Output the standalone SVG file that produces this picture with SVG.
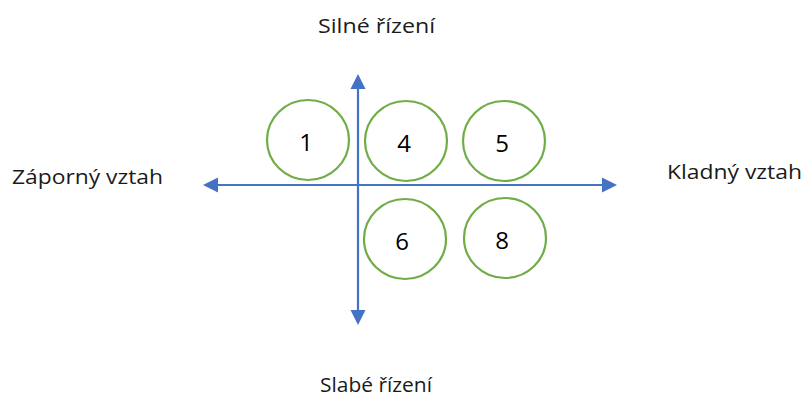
<svg xmlns="http://www.w3.org/2000/svg" width="805" height="406" viewBox="0 0 805 406">
<defs>
<style>
.lbl{font-family:"Open Sans","Liberation Sans",sans-serif;font-size:20.5px;fill:#1a1a1a}
.num{font-family:"Open Sans","Liberation Sans",sans-serif;font-size:24px;fill:#000;text-anchor:middle}
.c{fill:#fff;stroke:#70ad47;stroke-width:2.2}
.ax{stroke:#4472c4;stroke-width:2.2;fill:none}
.ah{fill:#4472c4}
</style>
</defs>
<rect width="805" height="406" fill="#fff"/>
<g id="connectors">
<line class="ax" x1="358" y1="86" x2="358" y2="313"/>
<polygon class="ah" points="358,74 350.5,89 365.5,89"/>
<polygon class="ah" points="358,325 350.5,310 365.5,310"/>
<line class="ax" x1="215" y1="185" x2="605" y2="185"/>
<polygon class="ah" points="203,185 218,177.5 218,192.5"/>
<polygon class="ah" points="617,185 602,177.5 602,192.5"/>
</g>
<g id="n1"><ellipse class="c" cx="308" cy="140" rx="41" ry="40"/><text class="num" x="306" y="151">1</text></g>
<g id="n4"><ellipse class="c" cx="406" cy="141" rx="41" ry="40"/><text class="num" x="404" y="152">4</text></g>
<g id="n5"><ellipse class="c" cx="504" cy="141" rx="41" ry="40"/><text class="num" x="502" y="152">5</text></g>
<g id="n6"><ellipse class="c" cx="405" cy="239" rx="41" ry="40"/><text class="num" x="402" y="250">6</text></g>
<g id="n8"><ellipse class="c" cx="505" cy="238" rx="41" ry="40"/><text class="num" x="502" y="249">8</text></g>
<g id="labels">
<text class="lbl" x="318" y="33" textLength="117" lengthAdjust="spacingAndGlyphs">Silné řízení</text>
<text class="lbl" x="12" y="184" textLength="151" lengthAdjust="spacingAndGlyphs">Záporný vztah</text>
<text class="lbl" x="667" y="179" textLength="135" lengthAdjust="spacingAndGlyphs">Kladný vztah</text>
<text class="lbl" x="320" y="392" textLength="112" lengthAdjust="spacingAndGlyphs">Slabé řízení</text>
</g>
</svg>
